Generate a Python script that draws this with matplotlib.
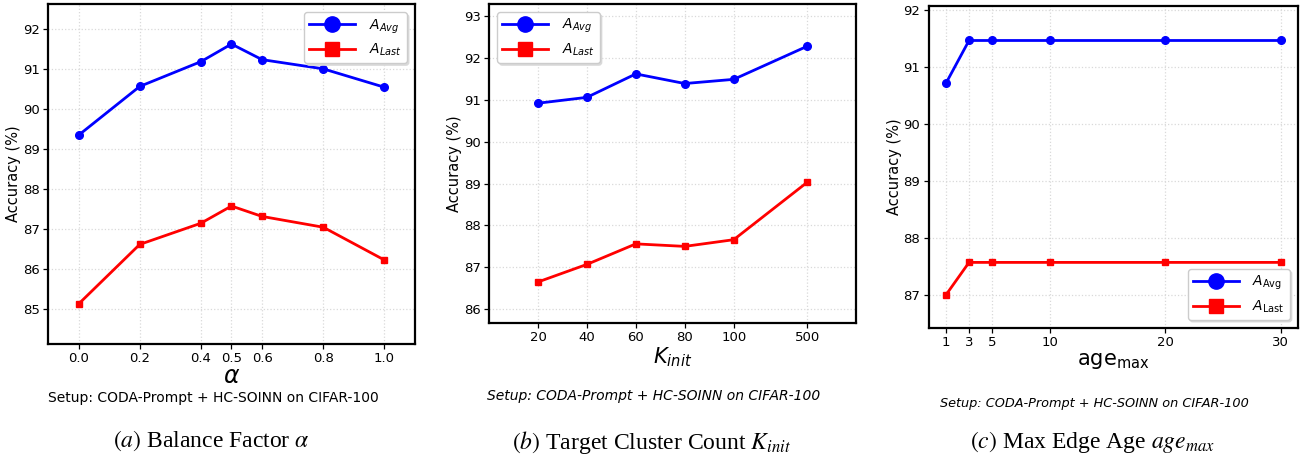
import matplotlib
matplotlib.use("Agg")
import matplotlib.pyplot as plt
import numpy as np

# ---- data ----
alpha_vals = [0.0, 0.2, 0.4, 0.5, 0.6, 0.8, 1.0]
alpha_avg = [89.34, 90.56, 91.18, 91.62, 91.23, 91.00, 90.54]
alpha_last = [85.12, 86.61, 87.14, 87.57, 87.31, 87.04, 86.22]

k_labels = ["20", "40", "60", "80", "100", "500"]
k_pos = [0, 1, 2, 3, 4, 5.5]          # 500 drawn with a wider gap
k_avg = [90.92, 91.06, 91.62, 91.39, 91.49, 92.28]
k_last = [86.65, 87.07, 87.56, 87.50, 87.66, 89.03]

age_vals = [1, 3, 5, 10, 20, 30]
age_avg = [90.72, 91.47, 91.47, 91.47, 91.47, 91.47]
age_last = [87.01, 87.58, 87.58, 87.58, 87.58, 87.58]

setup_txt = "Setup: CODA-Prompt + HC-SOINN on CIFAR-100"

fig = plt.figure(figsize=(13.03, 4.59), dpi=100)

ax_a = fig.add_axes([0.0368, 0.2505, 0.2817, 0.7407])
ax_b = fig.add_axes([0.3753, 0.2963, 0.2817, 0.6950])
ax_c = fig.add_axes([0.7127, 0.2854, 0.2834, 0.7022])


def style(ax):
    ax.grid(True, linestyle=":", color="#d9d9d9", linewidth=0.9)
    ax.set_axisbelow(True)
    for s in ax.spines.values():
        s.set_linewidth(1.6)
        s.set_color("black")
    ax.tick_params(labelsize=9.5, length=3.5, width=0.9, pad=2.5)
    ax.set_ylabel("Accuracy (%)", fontsize=10.5, labelpad=1)


def draw(ax, x, avg, last, lab_avg, lab_last, loc):
    ax.plot(x, avg, color="blue", linewidth=2, marker="o", markersize=5.5, label=lab_avg)
    ax.plot(x, last, color="red", linewidth=2, marker="s", markersize=5, label=lab_last)
    ax.legend(loc=loc, fontsize=10, markerscale=2.0, handlelength=3.3,
              borderpad=0.35, labelspacing=0.45, handletextpad=1.0,
              borderaxespad=0.6,
              framealpha=1, edgecolor="#cccccc", fancybox=True,
              shadow={"color": "0.85", "alpha": 1.0, "ox": 1.5, "oy": -1.5})


# (a) balance factor
draw(ax_a, alpha_vals, alpha_avg, alpha_last, "$A_{Avg}$", "$A_{Last}$", "upper right")
style(ax_a)
ax_a.set_xticks(alpha_vals)
ax_a.set_xlim(-0.1, 1.1)
ax_a.set_ylim(84.12, 92.62)
ax_a.set_yticks(range(85, 93))
ax_a.set_xlabel(r"$\alpha$", fontsize=17, labelpad=-1)

# (b) target cluster count
draw(ax_b, k_pos, k_avg, k_last, "$A_{Avg}$", "$A_{Last}$", "upper left")
style(ax_b)
ax_b.set_xticks(k_pos)
ax_b.set_xticklabels(k_labels)
ax_b.set_xlim(-1.0, 6.5)
ax_b.set_ylim(85.67, 93.29)
ax_b.set_yticks(range(86, 94))
ax_b.set_xlabel("$K_{init}$", fontsize=15, labelpad=1)

# (c) max edge age
draw(ax_c, age_vals, age_avg, age_last, r"$A_{\mathrm{Avg}}$", r"$A_{\mathrm{Last}}$", "lower right")
style(ax_c)
ax_c.set_xticks(age_vals)
ax_c.set_xlim(-0.5, 31.5)
ax_c.set_ylim(86.43, 92.08)
ax_c.set_yticks(range(87, 93))
ax_c.set_xlabel(r"age$_{\mathrm{max}}$", fontsize=15, labelpad=1)

# setup notes
fig.text(0.1635, 0.1329, setup_txt, ha="center", va="center", fontsize=10)
fig.text(0.5015, 0.1373, setup_txt, ha="center", va="center", fontsize=10, style="italic")
fig.text(0.8396, 0.1220, setup_txt, ha="center", va="center", fontsize=9.3, style="italic")

# captions
cap = dict(ha="center", va="center", fontsize=17, family="Liberation Serif", math_fontfamily="stix")
fig.text(0.1623, 0.039, r"$\mathit{(a)}$ Balance Factor $\alpha$", **cap)
fig.text(0.5000, 0.037, r"$\mathit{(b)}$ Target Cluster Count $K_{init}$", **cap)
fig.text(0.8385, 0.037, r"$\mathit{(c)}$ Max Edge Age $age_{max}$", **cap)

fig.savefig("out.png", dpi=100)
